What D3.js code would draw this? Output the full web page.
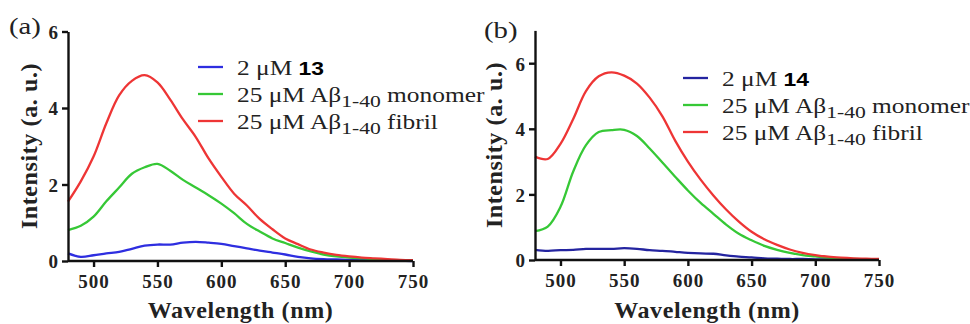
<!DOCTYPE html>
<html lang="en">
<head>
  <meta charset="UTF-8">
  <title>Emission spectra</title>
  <script src="https://d3js.org/d3.v7.min.js"></script>
  <style>
    body { margin: 0; background: #fff; }
    svg { display: block; }
    text { font-family: "Liberation Serif", "Times New Roman", serif; fill: #222; }
    .axis path, .axis line { stroke: #111; stroke-width: 2.4; }
    .axis text { font-family: "Liberation Serif", "Times New Roman", serif; font-weight: bold; font-size: 19px; fill: #222; }
    .title { font-weight: bold; font-size: 24px; letter-spacing: 0.6px; }
  </style>
</head>
<body>
  <div id="chart"></div>
  <script>
    // wavelength grid (nm), shared by all curves
    const wavelengths = [480, 490, 500, 510, 520, 530, 540, 550, 560, 570, 580, 590, 600, 610,
                         620, 630, 640, 650, 660, 670, 680, 690, 700, 710, 720, 730, 740, 750];
    const xTicks = [500, 550, 600, 650, 700, 750];

    // panel (a): compound 13
    const aProbe   = [0.20, 0.11, 0.15, 0.20, 0.24, 0.32, 0.40, 0.43, 0.43, 0.48, 0.50, 0.48, 0.45, 0.39,
                      0.33, 0.27, 0.22, 0.17, 0.11, 0.07, 0.05, 0.04, 0.03, 0.02, 0.02, 0.01, 0.01, 0.00];
    const aMonomer = [0.81, 0.92, 1.16, 1.56, 1.92, 2.28, 2.45, 2.54, 2.36, 2.12, 1.92, 1.72, 1.50, 1.25,
                      0.97, 0.77, 0.59, 0.47, 0.35, 0.25, 0.17, 0.12, 0.09, 0.07, 0.05, 0.03, 0.02, 0.01];
    const aFibril  = [1.55, 2.08, 2.73, 3.60, 4.33, 4.71, 4.86, 4.67, 4.22, 3.70, 3.24, 2.68, 2.20, 1.76,
                      1.45, 1.10, 0.83, 0.59, 0.44, 0.30, 0.22, 0.16, 0.12, 0.09, 0.07, 0.05, 0.03, 0.02];
    const aYTicks = [0, 2, 4, 6];

    // panel (b): compound 14
    const bProbe   = [0.31, 0.28, 0.30, 0.31, 0.34, 0.34, 0.34, 0.36, 0.34, 0.30, 0.28, 0.25, 0.22, 0.20,
                      0.19, 0.14, 0.10, 0.08, 0.05, 0.04, 0.03, 0.03, 0.02, 0.02, 0.01, 0.01, 0.01, 0.01];
    const bMonomer = [0.88, 1.02, 1.62, 2.70, 3.50, 3.90, 3.96, 3.97, 3.78, 3.40, 2.97, 2.54, 2.12, 1.74,
                      1.41, 1.08, 0.80, 0.60, 0.43, 0.31, 0.22, 0.15, 0.11, 0.07, 0.05, 0.03, 0.02, 0.02];
    const bFibril  = [3.15, 3.08, 3.54, 4.30, 5.15, 5.60, 5.72, 5.62, 5.38, 4.95, 4.38, 3.64, 3.00, 2.45,
                      1.97, 1.54, 1.17, 0.86, 0.63, 0.46, 0.32, 0.22, 0.15, 0.10, 0.07, 0.05, 0.04, 0.03];
    const bYTicks = [0, 2, 4, 6];

    const w = 970, h = 324;
    const svg = d3.select("#chart").append("svg").attr("width", w).attr("height", h);

    function panel(opt) {
      const x = d3.scaleLinear().domain([480, 750]).range([opt.left, opt.right]);
      const y = d3.scaleLinear().domain([0, opt.yMax]).range([opt.bottom, opt.top]);
      const g = svg.append("g");

      const line = d3.line()
        .x((d, i) => x(wavelengths[i]))
        .y(d => y(d))
        .curve(d3.curveCatmullRom.alpha(0.5));

      opt.series.forEach(s => {
        g.append("path")
          .attr("d", line(s.values))
          .attr("fill", "none")
          .attr("stroke", s.color)
          .attr("stroke-width", 2.3);
      });

      const xa = g.append("g").attr("class", "axis")
        .attr("transform", `translate(0,${opt.bottom})`)
        .call(d3.axisBottom(x).tickValues(xTicks).tickFormat(d3.format("d")).tickSize(6).tickSizeOuter(0));
      xa.selectAll("text").attr("y", 27).attr("dy", 0).style("letter-spacing", "1px");
      xa.select(".domain").attr("d", `M${opt.left},0H${opt.right}`);

      const ya = g.append("g").attr("class", "axis")
        .attr("transform", `translate(${opt.left},0)`)
        .call(d3.axisLeft(y).tickValues(opt.yTicks).tickFormat(d3.format("d")).tickSize(6).tickSizeOuter(0));
      ya.selectAll("text").attr("x", -10).attr("dy", "0.36em");

      g.append("text").attr("class", "title")
        .attr("x", (opt.left + opt.right) / 2 + opt.xTitleShift).attr("y", 318)
        .attr("text-anchor", "middle")
        .text("Wavelength (nm)");

      g.append("text").attr("class", "title")
        .attr("transform", `translate(${opt.yTitleX},${opt.yTitleY}) rotate(-90)`)
        .attr("text-anchor", "middle")
        .text("Intensity (a. u.)");

      g.append("text")
        .attr("transform", `translate(${opt.labelX},${opt.labelY}) scale(1.25,1)`)
        .style("font-size", "23px")
        .text(opt.label);

      // legend
      opt.series.forEach((s, i) => {
        const yy = opt.legendY + i * opt.legendStep;
        g.append("line")
          .attr("x1", opt.legendX).attr("x2", opt.legendX + 25)
          .attr("y1", yy - 8).attr("y2", yy - 8)
          .attr("stroke", s.color).attr("stroke-width", 2.3);
        const t = g.append("text")
          .attr("transform", `translate(${opt.legendX + 39},${yy}) scale(1.27,1)`)
          .style("font-size", "20px");
        if (s.compound) {
          t.append("tspan").text("2 \u03bcM ");
          t.append("tspan")
            .style("font-family", "'Liberation Sans', Arial, sans-serif")
            .style("font-weight", "bold").style("font-size", "18px").style("fill", "#000")
            .text(s.compound);
        } else {
          t.append("tspan").text("25 \u03bcM A\u03b2");
          t.append("tspan").attr("dy", 5).style("font-size", "17px").text("1-40");
          t.append("tspan").attr("dy", -5).text(" " + s.form);
        }
      });
    }

    panel({
      left: 68, right: 413, top: 31.5, bottom: 261, yMax: 6, yTicks: aYTicks,
      label: "(a)", labelX: 9, labelY: 34,
      yTitleX: 37, yTitleY: 146, xTitleShift: 0,
      legendX: 198, legendY: 75, legendStep: 27,
      series: [
        { values: aProbe, color: "#2e2ee0", compound: "13" },
        { values: aMonomer, color: "#36c836", form: "monomer" },
        { values: aFibril, color: "#ee3535", form: "fibril" }
      ]
    });

    panel({
      left: 535, right: 879, top: 30.4, bottom: 260, yMax: 7, yTicks: bYTicks,
      label: "(b)", labelX: 484, labelY: 38,
      yTitleX: 502, yTitleY: 145, xTitleShift: 0,
      legendX: 683, legendY: 86, legendStep: 27,
      series: [
        { values: bProbe, color: "#2424a0", compound: "14" },
        { values: bMonomer, color: "#36c836", form: "monomer" },
        { values: bFibril, color: "#ee3535", form: "fibril" }
      ]
    });
  </script>
</body>
</html>
